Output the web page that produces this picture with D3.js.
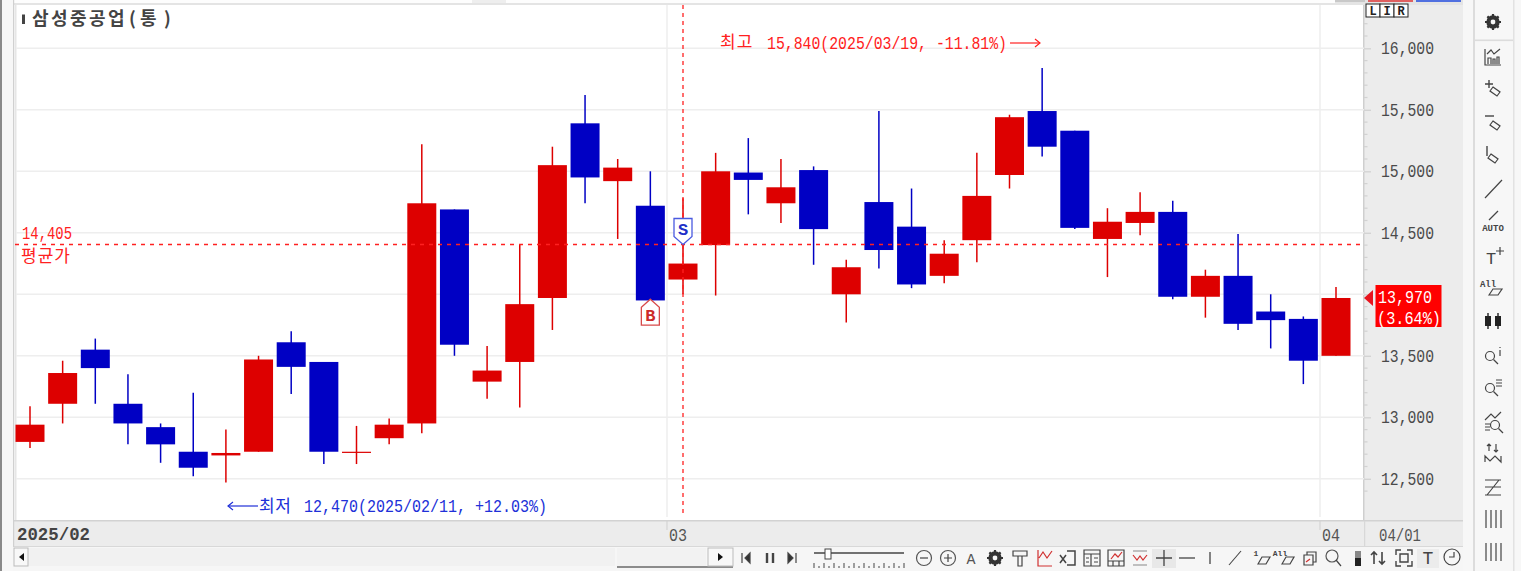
<!DOCTYPE html>
<html><head><meta charset="utf-8">
<script src="https://cdn.jsdelivr.net/npm/d3@7/dist/d3.min.js"></script>
<style>
html,body{margin:0;padding:0;background:#f7f7f7;overflow:hidden}
svg{display:block}
text{font-family:"Liberation Mono",monospace}
.kr{font-family:"Noto Sans CJK KR",sans-serif}
</style></head><body><svg id="c" width="1521" height="571"></svg>
<script>
const title = "삼성중공업(통)";
const dates = ["02/03","02/04","02/05","02/06","02/07","02/10","02/11","02/12","02/13","02/14","02/17","02/18","02/19","02/20","02/21","02/24","02/25","02/26","02/27","02/28","03/04","03/05","03/06","03/07","03/10","03/11","03/12","03/13","03/14","03/17","03/18","03/19","03/20","03/21","03/24","03/25","03/26","03/27","03/28","03/31","04/01"];
const opens  = [12800,13110,13550,13110,12920,12720,12690,12720,13610,13450,12720,12830,12950,14690,13290,13450,13970,15390,14920,14720,14120,14400,14990,14740,15010,14000,14750,14550,14150,14440,14970,15490,15330,14450,14580,14670,13980,14150,13860,13800,13500];
const highs  = [13090,13460,13640,13350,12950,13200,12900,13500,13700,13450,12930,12990,15220,14690,13580,14400,15200,15620,15100,15000,14780,15150,15270,15100,15040,14280,15490,14860,14440,15150,15460,15840,15330,14700,14830,14760,14200,14490,14000,13820,14060];
const lows   = [12750,12950,13110,12780,12630,12520,12470,12720,13190,12620,12620,12780,12870,13500,13150,13080,13710,14740,14450,13950,14000,13990,14650,14580,14240,13770,14210,14050,14090,14260,14860,15120,14530,14140,14480,13960,13810,13710,13560,13270,13500];
const closes = [12940,13360,13400,12950,12780,12590,12710,13470,13410,12720,12720,12940,14740,13590,13380,13920,15050,14950,15030,13950,14250,15000,14930,14870,14530,14220,14360,14080,14330,14800,15440,15200,14540,14590,14670,13980,14150,13760,13790,13460,13970];
const yTicks = [12500,13000,13500,14000,14500,15000,15500,16000];
const yTickLabels = ["12,500","13,000","13,500","","14,500","15,000","15,500","16,000"];
const yMinor = [12400,12600,12700,12800,12900,13100,13200,13300,13400,13600,13700,13800,13900,14100,14200,14300,14400,14600,14700,14800,14900,15100,15200,15300,15400,15600,15700,15800,15900,16100,16200];
const monthStarts = ["03/04","04/01"];
const monthLabels = ["2025/02","03","04","04/01"];
const avgPrice = 14405, avgLabel = "14,405", avgName = "평균가";
const crossDate = "03/04";
const signalDates = ["02/28","03/04"], signalTypes = ["B","S"], signalPrices = [13960,14405];
const hiText = "15,840(2025/03/19, -11.81%)", loText = "12,470(2025/02/11, +12.03%)";
const hiName = "최고", loName = "최저";
const lastText = ["13,970","(3.64%)"];

const RED="#dd0000", BLUE="#0000c4", LINE="#ff2020";
const svg = d3.select("#c");
const rect=(g,x,y,w,h,f,s)=>g.append("rect").attr("x",x).attr("y",y).attr("width",w).attr("height",h).attr("fill",f).attr("stroke",s||"none");
const mono=(str,px,py,w,fill,size)=>svg.append("text").text(str).attr("x",px).attr("y",py).attr("fill",fill)
  .attr("font-size",size||19).attr("textLength",w).attr("lengthAdjust","spacingAndGlyphs");
const x = d3.scalePoint().domain(dates).range([30,1336]);
const y = d3.scaleLinear().domain([12500,16000]).range([478.8,48.3]);

// frame
rect(svg,0,0,1521,571,"#f7f7f7");
rect(svg,0,0,2,571,"#8a8a8a");
rect(svg,13,0,1450,5,"#e4e4e4");
rect(svg,13,0,1322,3,"#fdfdfd");
rect(svg,472,0,34,3,"#eeeeee");
rect(svg,1335,0,30,2,"#c8c8c8");
rect(svg,1368,0,45,2,"#e06060");
rect(svg,1416,0,45,2,"#5070e0");
rect(svg,15,5,1349,516,"#ffffff");
rect(svg,15,5,1.5,516,"#e6e6e6");
rect(svg,1364,5,99,516,"#ececec");
rect(svg,1363,5,1.5,541,"#cfcfcf");
rect(svg,13,521,1450,25,"#ececec");
rect(svg,13,520,1450,1.5,"#d2d2d2");
rect(svg,13,546,1450,1.5,"#d8d8d8");
rect(svg,13,0,1.2,571,"#d0d0d0");

// grid
const grid = svg.append("g");
grid.selectAll("line.h").data(yTicks).join("line").attr("x1",16).attr("x2",1364)
 .attr("y1",d=>y(d)).attr("y2",d=>y(d)).attr("stroke","#eeeeee").attr("stroke-width",1.5);
grid.selectAll("line.v").data(monthStarts).join("line").attr("x1",d=>x(d)-16).attr("x2",d=>x(d)-16)
 .attr("y1",5).attr("y2",517).attr("stroke","#eeeeee").attr("stroke-width",1.5);

// axis
const ax = svg.append("g").attr("transform","translate(1364,0)").call(
  d3.axisRight(y).tickValues(yTicks).tickSize(7).tickFormat((d,i)=>yTickLabels[i]));
ax.select(".domain").remove();
ax.selectAll("line").attr("stroke","#d2d2d2").attr("stroke-width",1.3);
ax.selectAll("text").attr("x",17).attr("dy",0).attr("y",5.2).attr("text-anchor","start").attr("fill","#4a4a4a")
  .attr("font-size",19).attr("font-family","Liberation Mono")
  .attr("textLength",d=>d===14000?null:53).attr("lengthAdjust","spacingAndGlyphs");
svg.append("g").selectAll("line").data(yMinor).join("line").attr("x1",1364).attr("x2",1367.5)
 .attr("y1",d=>y(d)).attr("y2",d=>y(d)).attr("stroke","#d2d2d2").attr("stroke-width",1.2);

// candles
const rows = dates.map((d,i)=>({d,o:opens[i],h:highs[i],l:lows[i],c:closes[i]}));
const cg = svg.append("g");
const col = r=>r.c>=r.o?RED:BLUE;
cg.selectAll("line").data(rows).join("line").attr("x1",r=>x(r.d)).attr("x2",r=>x(r.d))
 .attr("y1",r=>y(r.h)).attr("y2",r=>y(r.l)).attr("stroke",col).attr("stroke-width",1.5);
cg.selectAll("rect").data(rows).join("rect").attr("x",r=>x(r.d)-14.5).attr("width",29)
 .attr("y",r=>y(Math.max(r.o,r.c))).attr("height",r=>Math.max(1.2,Math.abs(y(r.o)-y(r.c))))
 .attr("fill",col);

// average and crosshair
svg.append("line").attr("x1",15).attr("x2",1360).attr("y1",y(avgPrice)).attr("y2",y(avgPrice))
 .attr("stroke",LINE).attr("stroke-width",1.3).attr("stroke-dasharray","4 5");
svg.append("line").attr("x1",x(crossDate)).attr("x2",x(crossDate)).attr("y1",5).attr("y2",516)
 .attr("stroke",LINE).attr("stroke-width",1.3).attr("stroke-dasharray","4 4");
mono(avgLabel,22,238.5,50,LINE);
svg.append("text").attr("class","kr").text(avgName).attr("x",21).attr("y",261.5).attr("fill",LINE).attr("font-size",17).attr("letter-spacing",1);

// signals
signalTypes.forEach((t,i)=>{
  const cx=x(signalDates[i]), tip=y(signalPrices[i]), up=t==="B", dir=up?1:-1, c=up?"#d84a4a":"#4a5ae0";
  const g=svg.append("g").attr("transform",`translate(${cx},${tip})`);
  g.append("path").attr("d",`M0,0L9,${8*dir}L9,${26*dir}L-9,${26*dir}L-9,${8*dir}Z`).attr("fill","#fff").attr("stroke",c).attr("stroke-width",1.3);
  g.append("text").text(t).attr("text-anchor","middle").attr("y",up?21.5:-9.5).attr("fill",up?"#cc2a2a":"#2030c8")
   .attr("font-size",17).attr("font-weight","bold");
});

// annotations
const arrow=(x1,x2,yy,c,right)=>{
  svg.append("line").attr("x1",x1).attr("x2",x2).attr("y1",yy).attr("y2",yy).attr("stroke",c).attr("stroke-width",1.2);
  const tip=right?x2:x1,d=right?-5:5;
  svg.append("path").attr("d",`M${tip+d},${yy-4}L${tip},${yy}L${tip+d},${yy+4}`).attr("fill","none").attr("stroke",c).attr("stroke-width",1.2);
};
svg.append("text").attr("class","kr").text(hiName).attr("x",720).attr("y",48).attr("fill",LINE).attr("font-size",17).attr("letter-spacing",1);
mono(hiText,767,48.5,240,LINE);
arrow(1010,1040,43,LINE,true);
arrow(228,258,506,"#2030d8",false);
svg.append("text").attr("class","kr").text(loName).attr("x",259).attr("y",511.5).attr("fill","#2030d8").attr("font-size",17).attr("letter-spacing",0.5);
mono(loText,304,511.5,243,"#2030d8");

// title, glyphs placed one by one as in the reference
rect(svg,22,14.5,3,9.5,"#444");
svg.append("text").attr("class","kr").text(title).attr("x","32 51 70 89 108 129 140 164").attr("y",25).attr("fill","#444").attr("font-size",18).attr("font-weight","bold");

// x axis labels
svg.append("text").text(monthLabels[0]).attr("x",17).attr("y",540).attr("fill","#444").attr("font-size",18).attr("font-weight","bold")
 .attr("font-family","Liberation Sans").attr("textLength",73).attr("lengthAdjust","spacingAndGlyphs");
monthStarts.forEach((d,i)=>{
  svg.append("line").attr("x1",x(d)-16).attr("x2",x(d)-16).attr("y1",521).attr("y2",530).attr("stroke","#cfcfcf");
  mono(monthLabels[i+1],x(d)-16+2,540.5,18,"#555");
});
rect(svg,1364,521,1.2,25,"#d8d8d8");
mono(monthLabels[3],1379,541,42,"#555");

// L I R
["L","I","R"].forEach((t,i)=>{
  rect(svg,1366+i*14,4,14,13,"#fff","#222");
  svg.append("text").text(t).attr("x",1373+i*14).attr("y",15).attr("text-anchor","middle").attr("font-size",12).attr("font-weight","bold").attr("fill","#222");
});

// last price
rect(svg,1375.5,285,66,42,"#ff0000");
svg.append("path").attr("d",`M1364,${y(closes[40])}L1373,${y(closes[40])-8}L1373,${y(closes[40])+8}Z`).attr("fill","#e8141e");
mono(lastText[0],1378,302.5,54,"#fff");
mono(lastText[1],1377,323.5,64,"#fff");

// scrollbar
rect(svg,13,547,1450,24,"#f6f6f6");
rect(svg,15,548,600,18,"#f1f1f1");
rect(svg,14,548,14,18,"#f8f8f8","#bbb");
svg.append("path").attr("d","M24,553L19,557L24,561Z").attr("fill","#111");
rect(svg,617,548,89,18,"#f2f2f2");
rect(svg,617,566,116,2,"#8c8c8c");
rect(svg,708,548,25,18,"#f8f8f8","#bbb");
svg.append("path").attr("d","M718,553L723,557L718,561Z").attr("fill","#111");

// icons
const ic="#444";
const P=(d,o={})=>svg.append("path").attr("d",d).attr("fill",o.f||"none").attr("stroke",o.s||ic).attr("stroke-width",o.w||1.2);
const at=(cx,cy,d,o)=>P(d,o).attr("transform",`translate(${cx},${cy})`);
const gear=(cx,cy)=>{at(cx,cy,"M0,-5A5,5 0 1 1 0,5A5,5 0 1 1 0,-5",{w:3.4,s:"#333"});
  at(cx,cy,"M0,-8V8M-8,0H8M-5.6,-5.6L5.6,5.6M-5.6,5.6L5.6,-5.6",{w:2.2,s:"#333"});
  svg.append("circle").attr("cx",cx).attr("cy",cy).attr("r",2.4).attr("fill","#f7f7f7");};
const tag="l7,5l-3,4l-7,-5z";
// right toolbar
rect(svg,1473,0,2,571,"#dcdcdc"); rect(svg,1513,0,1.5,571,"#e2e2e2"); rect(svg,1475,39.5,38,1.6,"#dcdcdc");
gear(1493,22);
const X=1493;
at(X,57,"M-8,-8V8H8M-6,-3L-2,-7L1,-3L7,-8M-5,7V1H-2V7M0,7V2H2V7M4,7V0H6V7");
at(X,90,"M-8,-6H0M-4,-10V-2",{w:1.4}); at(X,90,"M0,-3"+tag);
at(X,124,"M-8,-8H1",{w:1.4}); at(X,124,"M0,-3"+tag);
at(X,156,"M-6,-10V0",{w:1.4}); at(X,156,"M-2,-2"+tag);
at(X,189,"M-8,9L9,-9");
at(X,216,"M-4,4L5,-5",{}); 
svg.append("text").text("AUTO").attr("x",X).attr("y",231).attr("text-anchor","middle").attr("font-size",9).attr("font-weight","bold").attr("fill",ic);
svg.append("text").text("T").attr("x",X-2).attr("y",264).attr("text-anchor","middle").attr("font-size",17).attr("fill",ic);
at(X+7,251,"M-4,0H4M0,-4V4");
svg.append("text").text("All").attr("x",X-5).attr("y",287).attr("text-anchor","middle").attr("font-size",9).attr("font-weight","bold").attr("fill",ic);
at(X+2,292,"M-6,3L-2,-3H7L3,3Z");
at(X,321,"M-5,-8V8M5,-8V8",{w:1.4,s:"#222"});
rect(svg,X-8,316,6,10,"#222"); rect(svg,X+2,316,6,10,"#222");
const mag=(cx,cy)=>{svg.append("circle").attr("cx",cx).attr("cy",cy).attr("r",4.5).attr("fill","none").attr("stroke",ic).attr("stroke-width",1.2);
  at(cx,cy,"M3.5,3.5L8,8");};
mag(X-3,356); at(X+7,352,"M0,-5V-4M0,-2V4");
mag(X-3,388); at(X+6,384,"M-3,-4H3M-3,-1H3M-3,2H3");
at(X,421,"M-8,-1L-2,-7L2,-3L8,-9M-8,3H-3M-8,6H-3M-8,9H-3"); mag(X+2,425);
at(X,453,"M-8,9V3L-3,8L2,3L8,9V3M-4,-2V-9M-6,-7L-4,-9L-2,-7M3,-9V-1M1,-3L3,-1L5,-3",{});
at(X,487,"M-8,-7H8M-8,0H8M-8,8H8M6,-7L-6,8");
at(X,519,"M-7,-9V9M-2,-9V9M3,-9V9M8,-9V9");
at(X,552,"M-7,-9V9M-2,-9V9M3,-9V9M8,-9V9");

// bottom toolbar
const Y=558;
at(746,Y,"M-4,-5V5M4,-5L-1,0L4,5Z",{f:"#333"});
at(770,Y,"M-3,-5V5M3,-5V5",{w:2.4});
at(792,Y,"M4,-5V5M-4,-5L1,0L-4,5Z",{f:"#333"});
at(859,553,"M-45,0H45",{w:1.3});
rect(svg,825,549,6,10,"#fff","#444");
svg.append("g").selectAll("line").data(d3.range(814,905,5)).join("line").attr("x1",d=>d).attr("x2",d=>d).attr("y1",(d,i)=>i%2?566:563).attr("y2",568).attr("stroke","#444");
[[924,"M-4,0H4"],[948,"M-4,0H4M0,-4V4"]].forEach(([cx,d])=>{
  svg.append("circle").attr("cx",cx).attr("cy",Y).attr("r",7.5).attr("fill","none").attr("stroke","#555").attr("stroke-width",1.2);
  at(cx,Y,d);});
svg.append("text").text("A").attr("x",971).attr("y",564).attr("text-anchor","middle").attr("font-size",15).attr("fill","#555");
gear(995,Y);
at(1020,Y,"M-7,-7H7V-2H-7ZM-2,-2V8H2V-2");
at(1045,Y,"M-7,-8V8H7M-6,0L-2,-6L2,0L7,-7",{s:"#d03030"});
at(1068,Y,"M-1,-7H7V7H-1M-8,-3L-2,5M-2,-3L-8,5",{w:1.5});
at(1092,Y,"M-8,-8H8V8H-8ZM-8,-4H8M-1,-4V8M2,0H6M2,4H6M-6,0H-3M-6,4H-3");
at(1116,Y,"M-8,-8H8V8H-8ZM-8,3H8M-3,3V8M3,3V8"); at(1116,Y,"M-5,1L-1,-4L2,-1L6,-6",{s:"#d03030"});
at(1140,Y,"M-7,-7H7M-7,7H7",{s:"#888"}); at(1140,Y,"M-7,-3L-3,2L0,-2L3,2L7,-3",{s:"#d03030"});
rect(svg,1152,549,24,19,"#e8e8e8");
at(1164,Y,"M-8,0H8M0,-8V8",{w:1.3});
at(1187,Y,"M-8,0H8",{w:1.3});
at(1210,Y,"M0,-6V6",{w:1.3});
at(1235,Y,"M-6,7L6,-7",{w:1.1});
[1262,1286].forEach((cx,i)=>{at(cx,Y,"M-4,6L0,-1H8L4,6Z");
  svg.append("text").text(i?"All":"1").attr("x",cx-6).attr("y",556).attr("text-anchor","middle").attr("font-size",8).attr("font-weight","bold").attr("fill",ic);});
at(1309,Y,"M-5,-3H4V7H-5ZM-2,-3V-6H7V4H4"); 
at(1309,Y+2,"M-3,2L1,-1",{s:"#d03030"});
svg.append("circle").attr("cx",1332).attr("cy",556).attr("r",6).attr("fill","none").attr("stroke","#555").attr("stroke-width",1.2);
at(1332,556,"M4,4L9,10");
rect(svg,1355,551,6,7,"#888"); rect(svg,1355,558,6,8,"#222");
at(1378,Y,"M-4,6V-6M-7,-3L-4,-6L-1,-3M4,-6V6M1,3L4,6L7,3",{w:1.6});
at(1404,Y,"M-8,-3V-8H-3M3,-8H8V-3M-8,3V8H-3M3,8H8V3M-4,-4H4V4H-4Z",{w:1.4});
rect(svg,1417,549,22,19,"#ececec");
svg.append("text").text("T").attr("x",1428).attr("y",564).attr("text-anchor","middle").attr("font-size",18).attr("fill","#444");
svg.append("circle").attr("cx",1452).attr("cy",557).attr("r",8).attr("fill","none").attr("stroke","#444").attr("stroke-width",1.2);
at(1452,557,"M2,-5V0H-3");
</script></body></html>
